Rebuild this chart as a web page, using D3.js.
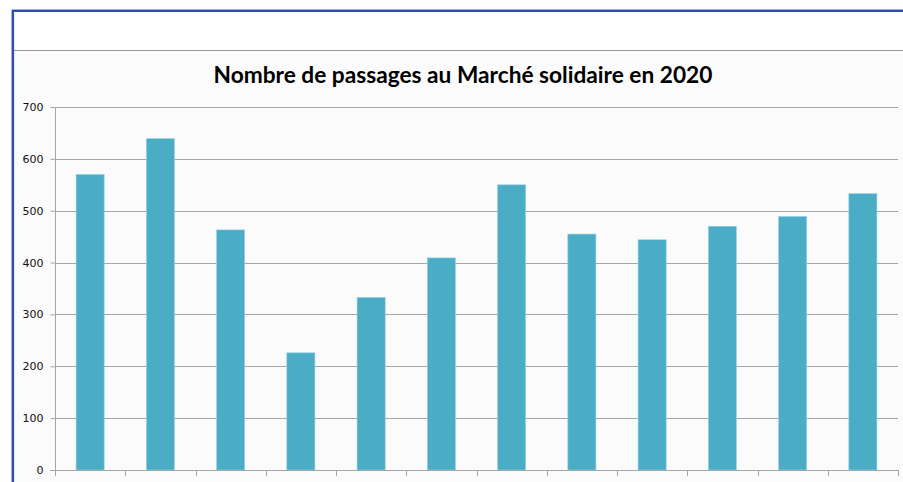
<!DOCTYPE html>
<html><head><meta charset="utf-8">
<script src="https://cdn.jsdelivr.net/npm/d3@7"></script>
<style>html,body{margin:0;padding:0;background:#fff;overflow:hidden}</style>
</head><body>
<svg id="c" width="903" height="482"></svg>
<script>
const title = "Nombre de passages au Marché solidaire en 2020";
const months = ["janv.","févr.","mars","avr.","mai","juin","juil.","août","sept.","oct.","nov.","déc."];
const passages = [570, 639, 463, 226, 333, 409, 550, 455, 444, 470, 489, 533];
const yTicks = [0, 100, 200, 300, 400, 500, 600, 700];

const svg = d3.select("#c");
// frame
svg.append("rect").attr("x",13).attr("y",50).attr("width",890).attr("height",432).attr("fill","#fbfbfb");
svg.append("line").attr("x1",13).attr("x2",903).attr("y1",50.5).attr("y2",50.5).attr("stroke","#9a9a9a").attr("stroke-width",1);
svg.append("line").attr("x1",12).attr("x2",903).attr("y1",11).attr("y2",11).attr("stroke","#2e4fae").attr("stroke-width",2.2);
svg.append("line").attr("x1",13).attr("x2",13).attr("y1",10).attr("y2",482).attr("stroke","#2e4fae").attr("stroke-width",2.2);
svg.append("line").attr("x1",12).attr("x2",903).attr("y1",9.5).attr("y2",9.5).attr("stroke","#9fb0dc").attr("stroke-width",1);
svg.append("line").attr("x1",11.5).attr("x2",11.5).attr("y1",10).attr("y2",482).attr("stroke","#9fb0dc").attr("stroke-width",1);

const x = d3.scaleBand().domain(months).range([55, 898]).paddingInner(0.6).paddingOuter(0.3);
const y = d3.scaleLinear().domain([0, 700]).range([470, 107]);

// gridlines
svg.append("g").selectAll("line").data(yTicks.filter(d=>d>0)).join("line")
  .attr("x1",55).attr("x2",898)
  .attr("y1",d=>Math.round(y(d))+0.5).attr("y2",d=>Math.round(y(d))+0.5)
  .attr("stroke","#a6a6a6").attr("stroke-width",1);

// bars
svg.append("g").selectAll("rect").data(passages).join("rect")
  .attr("x",(d,i)=>x(months[i]))
  .attr("width",x.bandwidth())
  .attr("y",d=>y(d))
  .attr("height",d=>y(0)-y(d))
  .attr("fill","#4bacc6")
  .attr("stroke","#9ad3e2").attr("stroke-width",0.6);

// y axis
const yAxis = d3.axisLeft(y).tickValues(yTicks).tickSize(5).tickPadding(7).tickFormat(d3.format("d"));
const gy = svg.append("g").attr("transform","translate(55.5,0)").call(yAxis);
gy.select(".domain").attr("stroke","#a6a6a6").attr("d","M0,107V470");
gy.selectAll(".tick line").attr("stroke","#a6a6a6");
gy.selectAll("text").attr("font-family","'DejaVu Sans', sans-serif").attr("font-size",11).attr("fill","#111");

// x axis (ticks at band boundaries, labels below visible area)
const bounds = d3.range(months.length+1).map(i => 55 + i*(843/12));
const gx = svg.append("g");
gx.append("line").attr("x1",50).attr("x2",898).attr("y1",470.5).attr("y2",470.5).attr("stroke","#a6a6a6");
gx.selectAll("line.t").data(bounds).join("line").attr("class","t")
  .attr("x1",d=>Math.round(d)+0.5).attr("x2",d=>Math.round(d)+0.5)
  .attr("y1",470).attr("y2",476).attr("stroke","#a6a6a6");

// title
const t = svg.append("text").attr("x",463).attr("y",83).attr("text-anchor","middle")
  .attr("font-family","Lato, 'Open Sans', sans-serif").attr("font-weight","bold")
  .attr("font-size",21).attr("fill","#000").text(title);
const w = t.node().getComputedTextLength();
t.attr("font-size", 21*499/w);
</script>
</body></html>
